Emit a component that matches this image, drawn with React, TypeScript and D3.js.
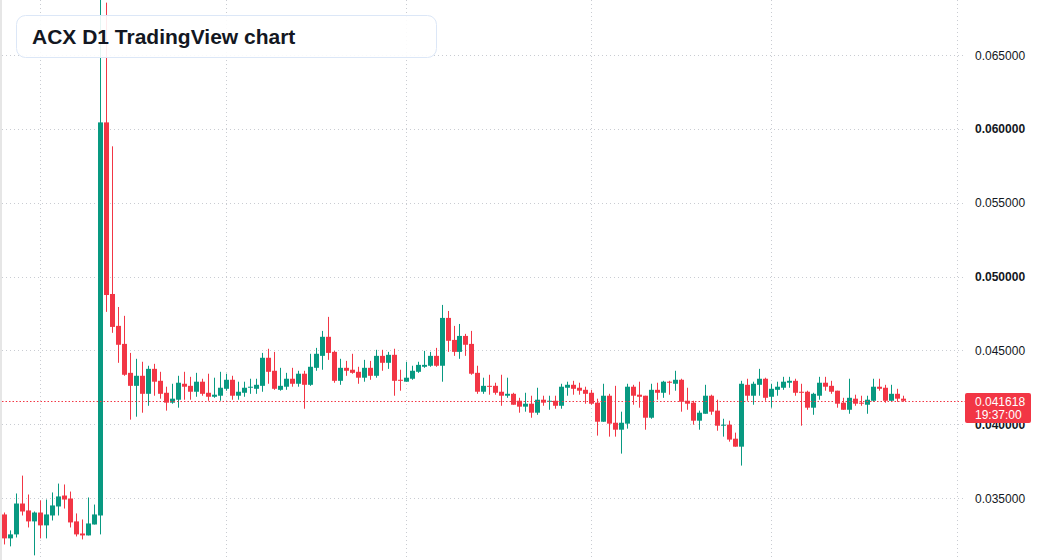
import React from 'react';
import * as d3 from 'd3';

const width = 1037;
const height = 560;
const plotRight = 966;

const up = '#089981';
const down = '#F23645';
const textColor = '#131722';

const title = 'ACX D1 TradingView chart';
// first daily candle, one candle per day after it
const startDate = Date.UTC(2023, 1, 23);

const open = [
	0.03392, 0.0323, 0.03257, 0.03466, 0.03419, 0.03345, 0.03405, 0.03318, 0.03385, 0.03446,
	0.0352, 0.035, 0.03345, 0.03263, 0.0325, 0.03324, 0.03385, 0.06047, 0.04885, 0.04669,
	0.04547, 0.04351, 0.04263, 0.04331, 0.04209, 0.04378, 0.04297, 0.04216, 0.04149, 0.04169,
	0.04277, 0.04263, 0.04223, 0.04291, 0.04216, 0.04189, 0.04196, 0.04243, 0.04304, 0.04196,
	0.04216, 0.0425, 0.04243, 0.04263, 0.04453, 0.04365, 0.04236, 0.04257, 0.04311, 0.04277,
	0.04345, 0.0427, 0.04385, 0.04466, 0.04595, 0.04493, 0.04297, 0.04385, 0.04372, 0.04358,
	0.04318, 0.04385, 0.04331, 0.04466, 0.04419, 0.04473, 0.04304, 0.04291, 0.04311, 0.04358,
	0.04392, 0.04399, 0.04466, 0.04399, 0.04723, 0.04574, 0.04493, 0.04601, 0.04547, 0.04351,
	0.04223, 0.04263, 0.04263, 0.04223, 0.04196, 0.04209, 0.04162, 0.04122, 0.04142, 0.04081,
	0.04169, 0.04155, 0.04162, 0.04128, 0.0425, 0.0427, 0.0425, 0.04236, 0.04216, 0.04149,
	0.0402, 0.04196, 0.04013, 0.03966, 0.04007, 0.04257, 0.04203, 0.04196, 0.04047, 0.04236,
	0.04216, 0.04291, 0.04277, 0.04304, 0.04162, 0.04149, 0.04027, 0.04074, 0.04196, 0.04095,
	0.03993, 0.04, 0.03905, 0.03851, 0.0427, 0.04196, 0.0427, 0.04311, 0.04189, 0.04236,
	0.0425, 0.04284, 0.04297, 0.04223, 0.04223, 0.04115, 0.04196, 0.04284, 0.04263, 0.0423,
	0.04149, 0.04101, 0.04176, 0.04149, 0.04135, 0.04162, 0.04257, 0.0425, 0.04162, 0.04209,
	0.04176,
];

const high = [
	0.03405, 0.03284, 0.03534, 0.03655, 0.03527, 0.03412, 0.03487, 0.03493, 0.03541, 0.03601,
	0.03595, 0.03547, 0.03399, 0.03358, 0.03507, 0.03459, 0.06905, 0.06858, 0.05885, 0.04797,
	0.04737, 0.04486, 0.04446, 0.04426, 0.04399, 0.04412, 0.04358, 0.04257, 0.04277, 0.04331,
	0.04358, 0.04324, 0.04351, 0.04311, 0.04345, 0.04318, 0.04358, 0.04345, 0.04331, 0.04291,
	0.04291, 0.04311, 0.04311, 0.04486, 0.04514, 0.04493, 0.04385, 0.04351, 0.04385, 0.04365,
	0.04365, 0.0448, 0.0452, 0.04635, 0.0473, 0.045, 0.04446, 0.04432, 0.0448, 0.04392,
	0.04439, 0.04432, 0.04507, 0.04507, 0.04493, 0.04514, 0.04372, 0.04426, 0.04399, 0.04426,
	0.045, 0.04493, 0.0452, 0.04811, 0.0477, 0.04669, 0.04682, 0.04615, 0.04635, 0.04399,
	0.04318, 0.04338, 0.04284, 0.04338, 0.04318, 0.04216, 0.04182, 0.04216, 0.04196, 0.0425,
	0.04196, 0.04196, 0.04196, 0.04277, 0.04291, 0.04297, 0.04284, 0.04257, 0.04236, 0.04176,
	0.04277, 0.04209, 0.04263, 0.04088, 0.04277, 0.0427, 0.04291, 0.04196, 0.04277, 0.04284,
	0.04297, 0.04297, 0.04365, 0.04311, 0.0425, 0.04162, 0.04095, 0.0427, 0.04203, 0.04169,
	0.0404, 0.04027, 0.03946, 0.04297, 0.04311, 0.04291, 0.04378, 0.04318, 0.04277, 0.04291,
	0.04324, 0.04324, 0.04311, 0.04277, 0.0423, 0.04216, 0.04324, 0.04324, 0.04297, 0.0423,
	0.04182, 0.04311, 0.04203, 0.04196, 0.04196, 0.04311, 0.04311, 0.0427, 0.0427, 0.04243,
	0.04196,
];

const low = [
	0.03189, 0.03176, 0.03236, 0.03385, 0.03304, 0.03115, 0.0323, 0.0323, 0.03351, 0.03385,
	0.03432, 0.03304, 0.03243, 0.03223, 0.0325, 0.03324, 0.03257, 0.04764, 0.04622, 0.04419,
	0.04331, 0.04034, 0.04054, 0.04081, 0.04128, 0.04196, 0.04176, 0.04095, 0.04142, 0.04115,
	0.04169, 0.04169, 0.04189, 0.04196, 0.04162, 0.04182, 0.04162, 0.0423, 0.04169, 0.04169,
	0.04189, 0.04209, 0.04209, 0.04223, 0.04277, 0.04236, 0.0423, 0.04236, 0.04257, 0.04257,
	0.04108, 0.04263, 0.04365, 0.04372, 0.04439, 0.04284, 0.0427, 0.04331, 0.04345, 0.04277,
	0.04291, 0.04304, 0.04318, 0.04365, 0.04378, 0.04196, 0.0423, 0.04291, 0.04304, 0.04351,
	0.04385, 0.04392, 0.04392, 0.04291, 0.04493, 0.04466, 0.04446, 0.04466, 0.04338, 0.04209,
	0.04209, 0.04203, 0.04203, 0.04128, 0.04182, 0.04135, 0.04081, 0.04088, 0.04047, 0.04067,
	0.04128, 0.04101, 0.04108, 0.04108, 0.04196, 0.04203, 0.04203, 0.04142, 0.04135, 0.03926,
	0.0402, 0.03919, 0.03919, 0.03804, 0.03973, 0.04135, 0.04115, 0.03966, 0.0404, 0.04169,
	0.04182, 0.04203, 0.0423, 0.04088, 0.04101, 0.04, 0.03966, 0.04074, 0.04067, 0.03959,
	0.03919, 0.03885, 0.03851, 0.03723, 0.04162, 0.04135, 0.04196, 0.04162, 0.04115, 0.04196,
	0.04236, 0.0425, 0.04196, 0.03993, 0.04101, 0.04067, 0.04169, 0.0423, 0.04209, 0.04115,
	0.04101, 0.04074, 0.04128, 0.04128, 0.04074, 0.04155, 0.0423, 0.04149, 0.04155, 0.04155,
	0.04155,
];

const close = [
	0.0323, 0.03257, 0.03466, 0.03412, 0.03345, 0.03405, 0.03318, 0.03392, 0.03453, 0.03514,
	0.03493, 0.03338, 0.03257, 0.0325, 0.03331, 0.03392, 0.06047, 0.04878, 0.04662, 0.04541,
	0.04338, 0.04263, 0.04331, 0.04209, 0.04378, 0.04291, 0.04209, 0.04149, 0.04176, 0.04284,
	0.04257, 0.04223, 0.04291, 0.04209, 0.04189, 0.04203, 0.0425, 0.04304, 0.04196, 0.04223,
	0.0425, 0.04257, 0.0427, 0.04453, 0.04358, 0.04243, 0.04263, 0.04311, 0.04277, 0.04345,
	0.0427, 0.04392, 0.0448, 0.04595, 0.04486, 0.04297, 0.04385, 0.04365, 0.04351, 0.04318,
	0.04385, 0.04331, 0.04466, 0.04419, 0.04473, 0.04297, 0.04297, 0.04318, 0.04365, 0.04405,
	0.04405, 0.04466, 0.04399, 0.04723, 0.04568, 0.04493, 0.04601, 0.04541, 0.04345, 0.04223,
	0.04263, 0.04257, 0.04216, 0.04196, 0.04209, 0.04135, 0.04122, 0.04142, 0.04081, 0.04169,
	0.04149, 0.04162, 0.04128, 0.04257, 0.0427, 0.04243, 0.0423, 0.04209, 0.04142, 0.0402,
	0.04196, 0.04007, 0.03966, 0.04013, 0.04257, 0.04196, 0.04189, 0.04047, 0.04236, 0.04216,
	0.04291, 0.04284, 0.04304, 0.04155, 0.04142, 0.04027, 0.04081, 0.04196, 0.04088, 0.03993,
	0.04, 0.03899, 0.03851, 0.04277, 0.04196, 0.04277, 0.04311, 0.04182, 0.04243, 0.04257,
	0.04291, 0.04297, 0.04216, 0.04216, 0.04115, 0.04209, 0.04284, 0.04257, 0.04223, 0.04142,
	0.04101, 0.04182, 0.04142, 0.04142, 0.04169, 0.04257, 0.04243, 0.04162, 0.04209, 0.04176,
	0.041618,
];

const priceTicks = [0.035, 0.04, 0.045, 0.05, 0.055, 0.06, 0.065];
const lastPrice = 0.041618;
const countdown = '19:37:00';

const dates = open.map((_, i) => d3.utcDay.offset(new Date(startDate), i));

const App = () => {
	const x = d3
		.scaleTime()
		.domain([dates[0], dates[dates.length - 1]])
		.range([4.5, 903.5]);
	const y = d3.scaleLinear().domain([0.035, 0.065]).range([498.5, 55.5]);
	const months = d3.utcMonth.range(x.invert(0), x.invert(plotRight));
	const fmt = d3.format('.6f');
	const lastY = Math.round(y(lastPrice)) + 0.5;

	return (
		<div style={{ position: 'absolute', left: 0, top: 0 }}>
			<svg
				width={width}
				height={height}
				style={{ display: 'block', background: '#fff', fontFamily: '"Liberation Sans", Arial, sans-serif' }}
			>
				<rect x={0} y={0} width={2} height={height} fill="#e6e6e6" />
				{/* grid */}
				{months.map((m, i) => {
					const gx = Math.floor(x(m)) + 0.5;
					return (
						<line key={'v' + i} x1={gx} x2={gx} y1={0} y2={height} stroke="#c9ccd2" strokeDasharray="1 3" />
					);
				})}
				{priceTicks.map((t) => (
					<line
						key={'h' + t}
						x1={2}
						x2={plotRight}
						y1={Math.floor(y(t)) + 0.5}
						y2={Math.floor(y(t)) + 0.5}
						stroke="#c9ccd2"
						strokeDasharray="1 3"
					/>
				))}
				{/* candles */}
				{dates.map((d, i) => {
					const cx = Math.floor(x(d));
					const color = close[i] >= open[i] ? up : down;
					const top = y(Math.max(open[i], close[i]));
					const bottom = y(Math.min(open[i], close[i]));
					return (
						<g key={i} fill={color}>
							<rect x={cx} y={y(high[i])} width={1} height={y(low[i]) - y(high[i])} />
							<rect x={cx - 2} y={top} width={5} height={Math.max(1, bottom - top)} />
						</g>
					);
				})}
				{/* last price line */}
				<line x1={2} x2={plotRight} y1={lastY} y2={lastY} stroke={down} strokeDasharray="1.5 2" />
				{/* price axis */}
				{priceTicks.map((t) => (
					<text
						key={'t' + t}
						x={975}
						y={y(t) + 4}
						fontSize={12}
						fill={textColor}
						fontWeight={Math.abs((t * 100) % 1) < 1e-6 || Math.abs((t * 100) % 1) > 1 - 1e-6 ? 'bold' : 'normal'}
					>
						{fmt(t)}
					</text>
				))}
				<rect x={965} y={393} width={66} height={30} rx={2} fill={down} />
				<text x={975} y={406} fontSize={12} fill="#fff">
					{fmt(lastPrice)}
				</text>
				<text x={975} y={419} fontSize={12} fill="#fff">
					{countdown}
				</text>
				{/* title */}
				<rect
					x={16.5}
					y={15.5}
					width={420}
					height={42}
					rx={9}
					fill="rgba(255,255,255,0.9)"
					stroke="#dce7f7"
				/>
				<text x={32} y={44} fontSize={21} fontWeight="bold" fill={textColor}>
					{title}
				</text>
			</svg>
		</div>
	);
};

export default App;
